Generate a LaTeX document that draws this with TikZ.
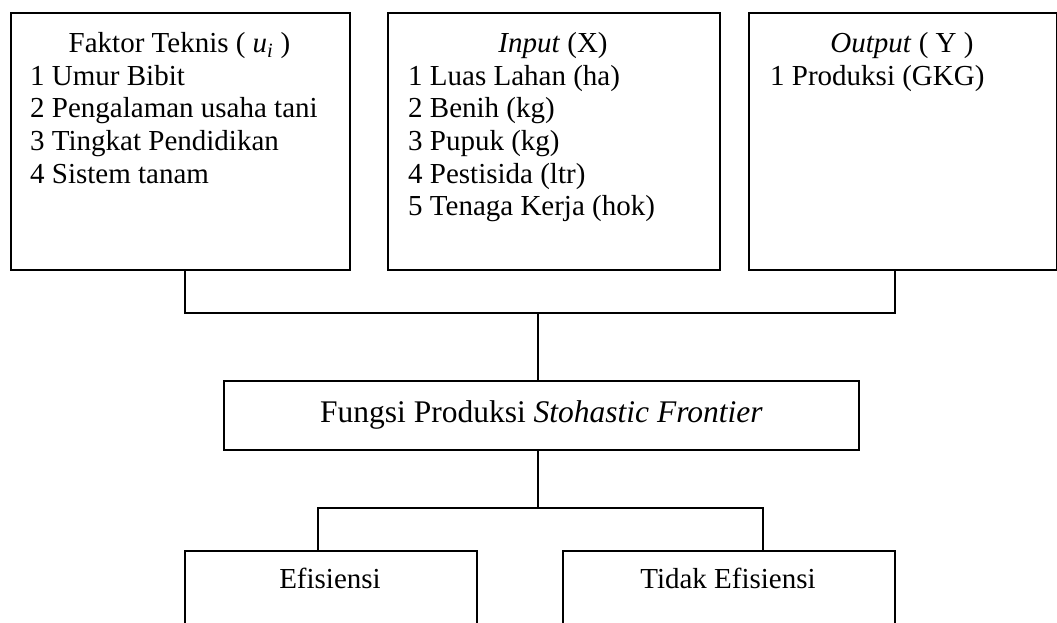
\documentclass[tikz,border=0pt]{standalone}
\usepackage{fontspec}
\setmainfont{Liberation Serif}
\tikzset{
    box/.style={draw, line width=1.8pt, anchor=north west, inner sep=0pt},
    link/.style={line width=1.5pt},
    head/.style={anchor=base, inner sep=0pt, font=\fontsize{29}{33}\selectfont},
    item/.style={anchor=base west, inner sep=0pt, font=\fontsize{29}{33}\selectfont},
}
\begin{document}
\begin{tikzpicture}[x=1pt, y=-1pt]
        \useasboundingbox (0, 0) rectangle (1057, 623);
        \clip (0, 0) rectangle (1057, 623);
        \node[box, minimum width=339pt, minimum height=257pt] (faktor) at (10, 12) {};
        \node[box, minimum width=332pt, minimum height=257pt] (input) at (387, 12) {};
        \node[box, minimum width=308pt, minimum height=257pt] (output) at (748, 12) {};
        \node[head] (faktorhead) at (179.5, 53) {Faktor Teknis ( \textit{u}\textsubscript{\textit{i}} )};
        \foreach \x[count=\i] in {Umur Bibit, Pengalaman usaha tani, Tingkat Pendidikan, Sistem tanam} {
            \node[item] (faktor\i) at (30, 53+\i*32.5) {\i\ \x};
        }
        \node[head] (inputhead) at (553, 53) {\textit{Input} (X)};
        \foreach \x[count=\i] in {Luas Lahan (ha), Benih (kg), Pupuk (kg), Pestisida (ltr), Tenaga Kerja (hok)} {
            \node[item] (input\i) at (408, 53+\i*32.5) {\i\ \x};
        }
        \node[head] (outputhead) at (902, 53) {\textit{Output} ( Y )};
        \node[item] (output1) at (770, 85.5) {1 Produksi (GKG)};
        \node[box, minimum width=635pt, minimum height=69pt, font=\fontsize{31.5}{32}\selectfont] (fungsi) at (223, 380) {Fungsi Produksi \textit{Stohastic Frontier}};
        \node[box, minimum width=292pt, minimum height=100pt] (efisien) at (184, 550) {};
        \node[box, minimum width=332pt, minimum height=100pt] (tidak) at (562, 550) {};
        \node[head] (efisientext) at (330, 588) {Efisiensi};
        \node[head] (tidaktext) at (728, 588) {Tidak Efisiensi};
        \coordinate (upjoin) at (538, 313);
        \coordinate (lowjoin) at (538, 508);
        \draw[link] ([xshift=4.5pt]faktor.south) |- (upjoin) -| ([xshift=-8pt]output.south);
        \draw[link] (upjoin) -- (upjoin |- fungsi.north);
        \draw[link] (upjoin |- fungsi.south) -- (lowjoin);
        \draw[link] ([xshift=-13pt]efisien.north) |- (lowjoin) -| ([xshift=34pt]tidak.north);
    \end{tikzpicture}
\end{document}
